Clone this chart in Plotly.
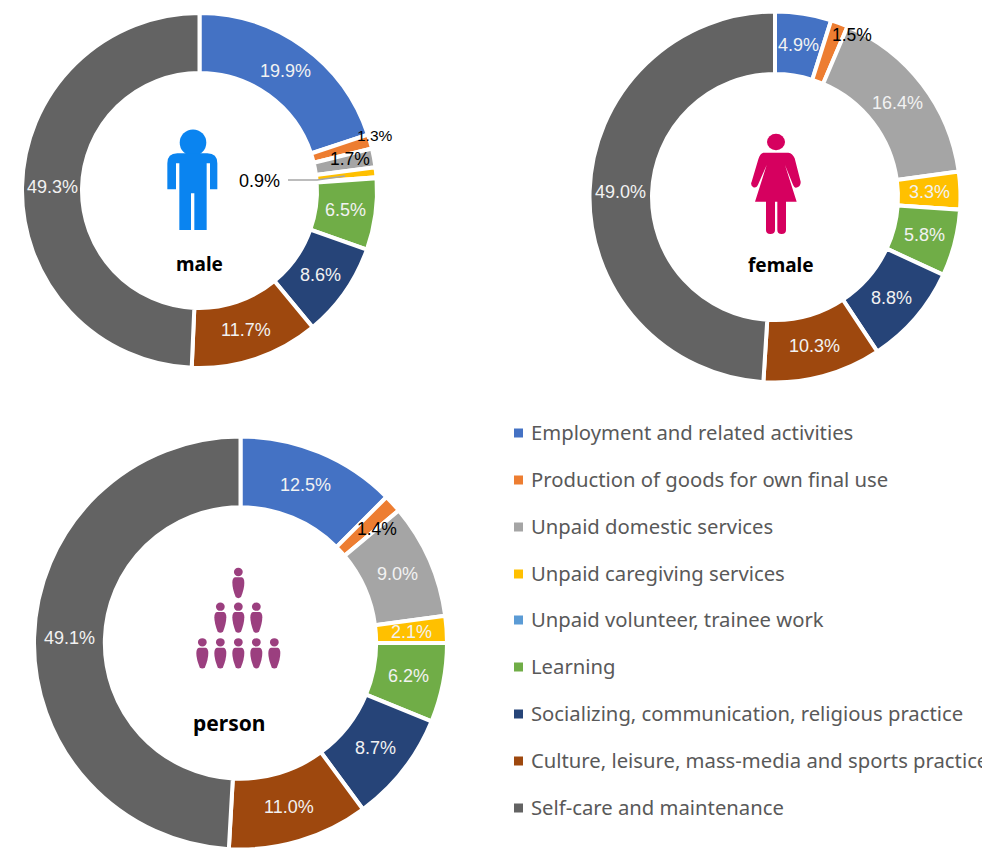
import math
import plotly.graph_objects as go

W, H = 982, 858

categories = ["Employment and related activities", "Production of goods for own final use",
              "Unpaid domestic services", "Unpaid caregiving services", "Unpaid volunteer, trainee work",
              "Learning", "Socializing, communication, religious practice",
              "Culture, leisure, mass-media and sports practice", "Self-care and maintenance"]
colors = ["#4472C4", "#ED7D31", "#A5A5A5", "#FFC000", "#5B9BD5", "#70AD47", "#264478", "#9E480E", "#636363"]

male_values = [19.9, 1.3, 1.7, 0.9, 0.1, 6.5, 8.6, 11.7, 49.3]
female_values = [4.9, 1.5, 16.4, 3.3, 0.0, 5.8, 8.8, 10.3, 49.0]
person_values = [12.5, 1.4, 9.0, 2.1, 0.0, 6.2, 8.7, 11.0, 49.1]

# name, values, cx, cy, outer radius, hole fraction, pixel overrides (x, y, font size) for small labels
donuts = [
    ("male", male_values, 199.5, 190.5, 177.5, 0.662, {1: (375, 136, 15.5), 2: (350, 159, 17.5), 3: (259, 181, 18)}),
    ("female", female_values, 775, 197, 185.5, 0.663, {1: (852, 35, 17.5)}),
    ("person", person_values, 240.5, 643, 206.5, 0.657, {1: (377, 529, 17.5)}),
]

def px(x):
    return x / W

def py(y):
    return 1 - y / H

fig = go.Figure()
annotations = []
shapes = []

def text_at(x, y, text, size, color, family="Liberation Sans", bold=False, anchor="center"):
    annotations.append(dict(x=px(x), y=py(y), xref="paper", yref="paper", text=f"<b>{text}</b>" if bold else text,
                            showarrow=False, xanchor=anchor, yanchor="middle",
                            font=dict(size=size, color=color, family=family)))

for name, vals, cx, cy, r, hole, over in donuts:
    fig.add_trace(go.Pie(
        labels=categories, values=vals, name=name, sort=False, direction="clockwise", rotation=0,
        hole=hole, textinfo="none", showlegend=False,
        marker=dict(colors=colors, line=dict(color="white", width=4)),
        domain=dict(x=[px(cx - r), px(cx + r)], y=[py(cy + r), py(cy - r)]),
    ))
    total = sum(vals)
    cum = 0
    mid_r = r * (1 + hole) / 2
    for i, v in enumerate(vals):
        ang = (cum + v / 2) / total * 2 * math.pi
        cum += v
        if v < 0.5:
            continue
        if i in over:
            x, y, s = over[i]
            text_at(x, y, f"{v:.1f}%", s, "black")
        else:
            text_at(cx + mid_r * math.sin(ang), cy - mid_r * math.cos(ang), f"{v:.1f}%", 18, "#F2F2F2")

# Centre captions
text_at(199, 264, "male", 19, "black", "Noto Sans", True)
text_at(781, 265, "female", 19, "black", "Noto Sans", True)
text_at(229, 723, "person", 21, "black", "Noto Sans", True)

def path_from(cmds, ox, oy, scale=1 / 3):
    out = []
    for c in cmds:
        if isinstance(c, str):
            out.append(c)
        else:
            out.append(f"{px(ox + c[0] * scale):.5f},{py(oy + c[1] * scale):.5f}")
    return " ".join(out)

def add_shape(cmds, ox, oy, color):
    shapes.append(dict(type="path", xref="paper", yref="paper", path=path_from(cmds, ox, oy),
                       fillcolor=color, line=dict(width=0)))

def add_ellipse(cx, cy, rx, ry, color):
    shapes.append(dict(type="circle", xref="paper", yref="paper", x0=px(cx - rx), x1=px(cx + rx),
                       y0=py(cy + ry), y1=py(cy - ry), fillcolor=color, line=dict(width=0)))

# Male icon
MALE = "#0A84F0"
add_ellipse(193, 142.7, 13.3, 13.3, MALE)
add_shape(["M", (112, 268), "L", (112, 190), "Q", (112, 160), (142, 160), "L", (232, 160), "Q", (262, 160), (262, 190),
           "L", (262, 268), "L", (240, 268), "L", (240, 190), "L", (230, 190), "L", (230, 390), "L", (193, 390),
           "L", (193, 280), "L", (183, 280), "L", (183, 390), "L", (148, 390), "L", (148, 190), "L", (138, 190),
           "L", (138, 268), "Z"], 130, 100, MALE)

# Female icon
FEMALE = "#D6005F"
add_ellipse(776, 142, 9, 8.3, FEMALE)
add_shape(["M", (130, 458), "L", (205, 458), "Q", (218, 460), (224, 475), "L", (242, 545), "Q", (243, 562), (228, 563),
           "Q", (222, 563), (218, 552), "L", (195, 495), "L", (230, 605), "L", (198, 605), "L", (198, 690),
           "Q", (198, 702), (185, 702), "Q", (172, 702), (172, 690), "L", (172, 605), "L", (165, 605), "L", (165, 690),
           "Q", (165, 702), (151, 702), "Q", (138, 702), (138, 690), "L", (138, 605), "L", (105, 605), "L", (140, 495),
           "L", (115, 552), "Q", (110, 565), (100, 562), "Q", (90, 555), (95, 545), "L", (115, 478), "Q", (120, 460), (130, 458),
           "Z"], 720, 0, FEMALE)

# Person pyramid icon
PERSON = "#9B3F7F"
heads = [(205, 246), (151, 350), (205, 350), (259, 350), (97, 457), (151, 457), (205, 457), (259, 457), (313, 457)]
for hx, hy in heads:
    add_ellipse(170 + hx / 3, 490 + hy / 3, 4.4, 4.2, PERSON)
    body = [(-10, 16), (-18, 18), (-18, 32), (-18, 50), (-8, 75), (0, 82), (8, 75), (18, 50), (18, 32), (18, 18), (10, 16)]
    b = [(hx + p[0], hy + p[1]) for p in body]
    add_shape(["M", b[0], "Q", b[1], b[2], "Q", b[3], b[4], "Q", b[5], b[6], "Q", b[7], b[8], "Q", b[9], b[10], "Z"],
              170, 490, PERSON)

# Leader line for the 0.9% label
shapes.append(dict(type="path", xref="paper", yref="paper",
                   path=f"M {px(288)},{py(180)} L {px(317)},{py(180)} L {px(345)},{py(176)}",
                   line=dict(color="#A6A6A6", width=1.5)))

# Legend
legend_y = [433, 480, 527, 574, 620, 667, 714, 761, 808]
for c, col, y in zip(categories, colors, legend_y):
    shapes.append(dict(type="rect", xref="paper", yref="paper", x0=px(514), x1=px(523), y0=py(y + 4.5), y1=py(y - 4.5),
                       fillcolor=col, line=dict(width=0)))
    text_at(529, y - 1, c, 20.25, "#595959", "Noto Sans", anchor="left")

fig.update_layout(width=W, height=H, margin=dict(l=0, r=0, t=0, b=0), paper_bgcolor="white",
                  annotations=annotations, shapes=shapes)
fig.write_html("out.html", config={"displayModeBar": False},
               post_script="document.body.style.margin='0';")
